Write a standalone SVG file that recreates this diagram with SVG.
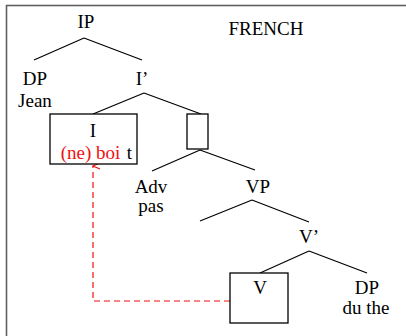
<svg xmlns="http://www.w3.org/2000/svg" width="406" height="336" viewBox="0 0 406 336">
<style>
text{font-family:"Liberation Serif","Times New Roman",serif;font-size:19px;fill:#000;text-anchor:middle}
.red{fill:#ee1111}
.e{stroke:#000;stroke-width:1.2;fill:none}
.box{stroke:#000;stroke-width:1.3;fill:#fff}
</style>
<defs>
<marker id="ah" markerWidth="10" markerHeight="10" refX="5" refY="1" orient="auto" markerUnits="userSpaceOnUse">
<path d="M2,8 L5,1 L8,8" fill="none" stroke="#ee1111" stroke-width="1.1"/>
</marker>
</defs>
<rect x="6.5" y="5.5" width="440" height="400" fill="#fff" stroke="#606060" stroke-width="1.6"/>
<g id="connectors">
<path class="e" d="M84,38 L34,60 M84,38 L142,60"/>
<path class="e" d="M144,93 L93,114 M144,93 L201,114"/>
<path class="e" d="M200,150 L152,171 M200,150 L255,170"/>
<path class="e" d="M252,200 L200,221 M252,200 L309,222"/>
<path class="e" d="M309,251 L260,273 M309,251 L367,273"/>
<path d="M230,301 L93,301 L93,166" fill="none" stroke="#ee1111" stroke-width="1.2" stroke-dasharray="6,4" marker-end="url(#ah)"/>
</g>
<g id="title"><text x="266" y="35">FRENCH</text></g>
<g id="IP"><text x="86" y="28">IP</text></g>
<g id="DP-Jean"><text x="35" y="85">DP</text><text x="35" y="107">Jean</text></g>
<g id="Ibar"><text x="142" y="85">I’</text></g>
<g id="I"><rect class="box" x="50" y="114" width="87" height="50"/><text x="93" y="137">I</text><text class="red" x="90.5" y="159">(ne) boi</text><text x="129.5" y="159">t</text></g>
<g id="empty"><rect class="box" x="187" y="114" width="21" height="35"/></g>
<g id="Adv"><text x="151" y="193">Adv</text><text x="151" y="212">pas</text></g>
<g id="VP"><text x="258" y="193">VP</text></g>
<g id="Vbar"><text x="309" y="243">V’</text></g>
<g id="V"><rect class="box" x="230" y="273" width="58" height="50"/><text x="260" y="294">V</text></g>
<g id="DP-du-the"><text x="367" y="294">DP</text><text x="366" y="314">du the</text></g>
</svg>
